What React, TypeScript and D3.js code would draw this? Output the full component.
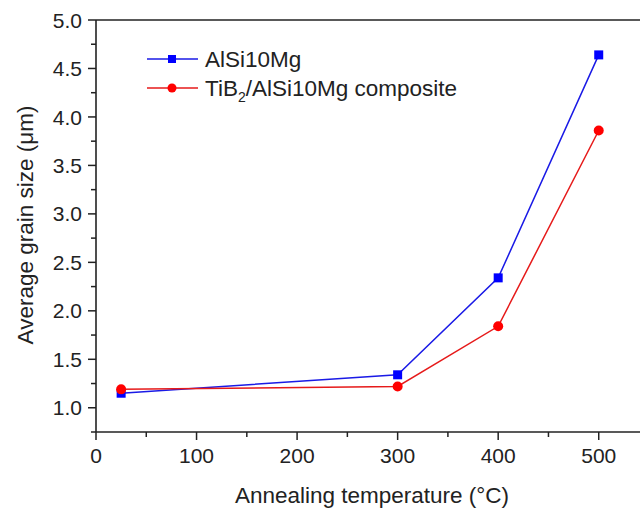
import React from "react";
import * as d3 from "d3";

const temps = [25, 300, 400, 500];
const alsi = [1.15, 1.34, 2.34, 4.64];
const composite = [1.19, 1.22, 1.84, 3.86];
const xTicks = [0, 100, 200, 300, 400, 500];
const xMinor = [50, 150, 250, 350, 450, 550];
const yTicks = [1.0, 1.5, 2.0, 2.5, 3.0, 3.5, 4.0, 4.5, 5.0];
const yMinor = [0.75, 1.25, 1.75, 2.25, 2.75, 3.25, 3.75, 4.25, 4.75];

const W = 640, H = 510;
const x = d3.scaleLinear().domain([0, 550]).range([96, 649]);
const y = d3.scaleLinear().domain([0.75, 5.0]).range([432, 20]);
const FONT = "Liberation Sans, Arial, sans-serif";
const AX = "#222";

export default function App() {
  const line = d3.line<number>().x((_, i) => x(temps[i])).y((d) => y(d));
  return (
    <svg width={W} height={H} style={{ position: "absolute", left: 0, top: 0, background: "#fff" }} fontFamily={FONT}>
      {/* axes */}
      <line x1={96} x2={W} y1={20} y2={20} stroke={AX} strokeWidth={1.6} />
      <line x1={96} x2={96} y1={20} y2={432} stroke={AX} strokeWidth={1.6} />
      <line x1={96} x2={W} y1={432} y2={432} stroke={AX} strokeWidth={1.6} />
      {yTicks.map((t) => (
        <g key={"y" + t}>
          <line x1={88} x2={96} y1={y(t)} y2={y(t)} stroke={AX} strokeWidth={1.5} />
          <text x={82} y={y(t)} dy="0.36em" textAnchor="end" fontSize={21} fill="#222">{t.toFixed(1)}</text>
        </g>
      ))}
      {yMinor.map((t) => (
        <line key={"ym" + t} x1={91} x2={96} y1={y(t)} y2={y(t)} stroke={AX} strokeWidth={1.5} />
      ))}
      {xTicks.map((t) => (
        <g key={"x" + t}>
          <line x1={x(t)} x2={x(t)} y1={432} y2={440} stroke={AX} strokeWidth={1.5} />
          <text x={x(t)} y={463} textAnchor="middle" fontSize={21} fill="#222">{t}</text>
        </g>
      ))}
      {xMinor.map((t) => (
        <line key={"xm" + t} x1={x(t)} x2={x(t)} y1={432} y2={437} stroke={AX} strokeWidth={1.5} />
      ))}
      <text x={372} y={503} textAnchor="middle" fontSize={22.5} fill="#222">Annealing temperature (°C)</text>
      <text transform={`translate(33,225) rotate(-90)`} textAnchor="middle" fontSize={22.5} fill="#222">Average grain size (μm)</text>

      {/* series */}
      <path d={line(alsi) || ""} fill="none" stroke="#1a1ae6" strokeWidth={1.5} />
      <path d={line(composite) || ""} fill="none" stroke="#e61a1a" strokeWidth={1.5} />
      {alsi.map((v, i) => (
        <rect key={"a" + i} x={x(temps[i]) - 4.5} y={y(v) - 4.5} width={9} height={9} fill="#0000ff" />
      ))}
      {composite.map((v, i) => (
        <circle key={"c" + i} cx={x(temps[i])} cy={y(v)} r={5} fill="#ff0000" />
      ))}

      {/* legend */}
      <line x1={147} x2={198} y1={59} y2={59} stroke="#1a1ae6" strokeWidth={1.5} />
      <rect x={168} y={55} width={8} height={8} fill="#0000ff" />
      <text x={205} y={59} dy="0.36em" fontSize={22.5} fill="#222">AlSi10Mg</text>
      <line x1={147} x2={198} y1={88} y2={88} stroke="#e61a1a" strokeWidth={1.5} />
      <circle cx={172} cy={88} r={4.5} fill="#ff0000" />
      <text x={205} y={88} dy="0.36em" fontSize={22.5} fill="#222">
        TiB<tspan fontSize={14} dy={6}>2</tspan><tspan dy={-6}>/AlSi10Mg composite</tspan>
      </text>
    </svg>
  );
}
